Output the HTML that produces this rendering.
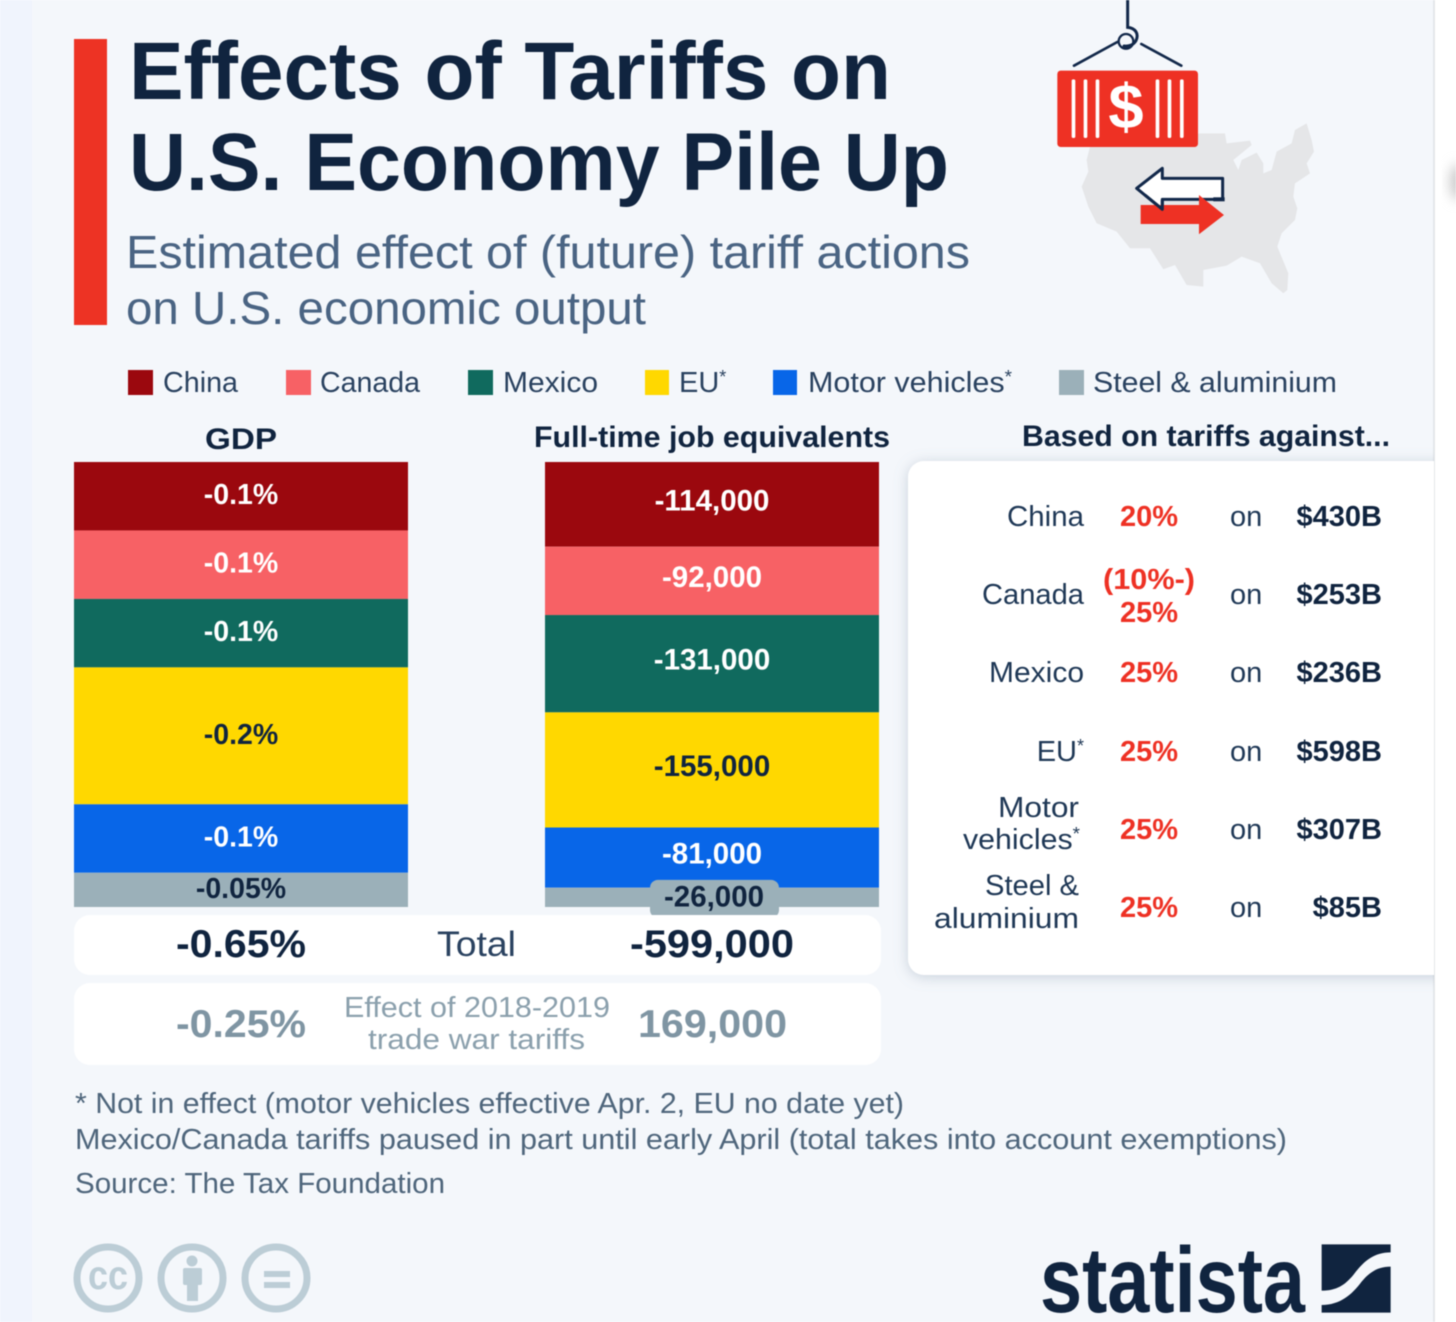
<!DOCTYPE html>
<html lang="en">
<head>
<meta charset="utf-8">
<title>Effects of Tariffs on U.S. Economy Pile Up</title>
<style>
html,body{margin:0;padding:0;background:#fff;}
body{width:1456px;height:1322px;overflow:hidden;}
svg{display:block;filter:blur(0.45px);}
text{font-family:"Liberation Sans",sans-serif;}
.b{font-weight:700;}
.leg{font-size:29px;fill:#2a4260;}
.hdr{font-size:30px;font-weight:700;fill:#10243f;}
.nm{font-size:29px;fill:#1f3856;text-anchor:end;}
.pc{font-size:29px;font-weight:700;fill:#ee3124;text-anchor:middle;}
.on{font-size:29px;fill:#1f3856;}
.val{font-size:29px;font-weight:700;fill:#10243f;text-anchor:end;}
.foot{font-size:29px;fill:#4f667c;}
</style>
</head>
<body>
<svg id="chart" xmlns="http://www.w3.org/2000/svg" width="1456" height="1322" viewBox="0 0 1456 1322">
  <defs>
    <filter id="cardShadow" x="-10%" y="-10%" width="120%" height="120%"><feDropShadow dx="0" dy="2" stdDeviation="7" flood-color="#7f92a6" flood-opacity="0.38"/></filter>
    <filter id="soft" x="-50%" y="-50%" width="200%" height="200%"><feGaussianBlur stdDeviation="6"/></filter>
    <clipPath id="cardClip"><rect x="890" y="440" width="544" height="560"/></clipPath>
  </defs>

  <rect x="0" y="0" width="32" height="1322" fill="#f0f4fd"/>
  <rect x="32" y="0" width="1402" height="1322" fill="#f4f7fb"/>
  <rect x="1433" y="0" width="2" height="1322" fill="#e4e7ea"/>
  <ellipse cx="1458" cy="182" rx="8" ry="18" fill="#c9c9c9" filter="url(#soft)"/>

  <rect x="74" y="39" width="33" height="286" fill="#ed3324"/>
  <text class="b" x="129" y="99" font-size="82" fill="#10243f" textLength="762" lengthAdjust="spacingAndGlyphs">Effects of Tariffs on</text>
  <text class="b" x="129" y="190" font-size="82" fill="#10243f" textLength="820" lengthAdjust="spacingAndGlyphs">U.S. Economy Pile Up</text>
  <text x="126" y="268" font-size="46" fill="#4a6483" textLength="844" lengthAdjust="spacingAndGlyphs">Estimated effect of (future) tariff actions</text>
  <text x="126" y="324" font-size="46" fill="#4a6483" textLength="520" lengthAdjust="spacingAndGlyphs">on U.S. economic output</text>

  <g transform="translate(1000,0) scale(0.3333)">
    <polygon fill="#e5e6e8" points="260,480 270,440 390,410 480,420 600,400 675,400 680,430 750,422 755,435 700,480 715,510 725,480 770,458 790,490 790,520 815,510 830,455 875,430 885,390 920,370 935,420 942,455 920,490 930,520 885,550 880,590 892,625 885,660 845,700 832,740 865,820 862,870 850,880 815,850 780,790 725,770 680,797 610,810 610,860 560,855 525,795 490,808 450,745 390,745 350,695 290,670 265,620 245,560 265,515"/>
    <path d="M383 0V82C405 84 418 100 408 122C400 136 385 140 372 138" fill="none" stroke="#12284a" stroke-width="9" stroke-linecap="round"/>
    <circle cx="378" cy="124" r="22" fill="none" stroke="#12284a" stroke-width="7"/>
    <line x1="222" y1="197" x2="352" y2="126" stroke="#12284a" stroke-width="8" stroke-linecap="round"/>
    <line x1="424" y1="132" x2="544" y2="197" stroke="#12284a" stroke-width="8" stroke-linecap="round"/>
    <rect x="172" y="212" width="422" height="229" rx="10" fill="#ee3124"/>
    <g fill="#fff">
      <rect x="215" y="238" width="11" height="176" rx="5"/><rect x="251" y="238" width="11" height="176" rx="5"/><rect x="287" y="238" width="11" height="176" rx="5"/>
      <rect x="467" y="238" width="11" height="176" rx="5"/><rect x="503" y="238" width="11" height="176" rx="5"/><rect x="540" y="238" width="11" height="176" rx="5"/>
    </g>
    <text class="b" x="378" y="385" font-size="190" fill="#fff" text-anchor="middle">$</text>
    <polygon points="410,565 487,505 487,535 668,535 668,598 487,598 487,628" fill="#fff" stroke="#12284a" stroke-width="9" stroke-linejoin="round"/>
    <polygon points="422,615 597,615 597,585 672,645 597,703 597,672 422,672" fill="#ee3124"/>
    <rect x="640" y="592" width="34" height="12" fill="#12284a"/>
    <polyline points="435,585 487,628 487,600" fill="none" stroke="#12284a" stroke-width="9" stroke-linejoin="round"/>
  </g>

  <g>
    <g><rect x="128" y="370" width="25" height="25" fill="#9b080e"/><text class="leg" x="163" y="392" textLength="75" lengthAdjust="spacingAndGlyphs">China</text></g>
    <g><rect x="286" y="370" width="25" height="25" fill="#f76165"/><text class="leg" x="320" y="392" textLength="100" lengthAdjust="spacingAndGlyphs">Canada</text></g>
    <g><rect x="468" y="370" width="25" height="25" fill="#106a5e"/><text class="leg" x="503" y="392" textLength="95" lengthAdjust="spacingAndGlyphs">Mexico</text></g>
    <g><rect x="645" y="370" width="24" height="25" fill="#ffd800"/><text class="leg" x="679" y="392">EU<tspan font-size="18" dy="-9">*</tspan></text></g>
    <g><rect x="773" y="370" width="24" height="25" fill="#0866e8"/><text class="leg" x="808" y="392" textLength="204" lengthAdjust="spacingAndGlyphs">Motor vehicles<tspan font-size="18" dy="-9">*</tspan></text></g>
    <g><rect x="1059" y="370" width="25" height="25" fill="#9bb0b9"/><text class="leg" x="1093" y="392" textLength="244" lengthAdjust="spacingAndGlyphs">Steel &amp; aluminium</text></g>
  </g>

  <text class="hdr" x="205" y="449" font-size="32" textLength="72" lengthAdjust="spacingAndGlyphs">GDP</text>
  <text class="hdr" x="534" y="447" textLength="356" lengthAdjust="spacingAndGlyphs">Full-time job equivalents</text>
  <text class="hdr" x="1022" y="446" textLength="368" lengthAdjust="spacingAndGlyphs">Based on tariffs against...</text>

  <g id="gdpBars"></g>
  <g id="jobBars"></g>

  <g>
    <rect x="74" y="915" width="807" height="60" rx="16" fill="#fff"/>
    <text class="b" x="176" y="957" font-size="39" fill="#10243f" textLength="130" lengthAdjust="spacingAndGlyphs">-0.65%</text>
    <text x="437" y="956" font-size="35" fill="#2a4260" textLength="79" lengthAdjust="spacingAndGlyphs">Total</text>
    <text class="b" x="630" y="957" font-size="39" fill="#10243f" textLength="164" lengthAdjust="spacingAndGlyphs">-599,000</text>
  </g>
  <g>
    <rect x="74" y="983" width="807" height="82" rx="16" fill="#fff"/>
    <text class="b" x="176" y="1037" font-size="39" fill="#7f95a3" textLength="130" lengthAdjust="spacingAndGlyphs">-0.25%</text>
    <text x="344" y="1017" font-size="29" fill="#8ba0ad" textLength="266" lengthAdjust="spacingAndGlyphs">Effect of 2018-2019</text>
    <text x="368" y="1049" font-size="29" fill="#8ba0ad" textLength="217" lengthAdjust="spacingAndGlyphs">trade war tariffs</text>
    <text class="b" x="638" y="1037" font-size="39" fill="#7f95a3" textLength="149" lengthAdjust="spacingAndGlyphs">169,000</text>
  </g>

  <g>
    <g clip-path="url(#cardClip)"><rect x="908" y="461" width="560" height="514" rx="16" fill="#fff" filter="url(#cardShadow)"/></g>
    <g>
      <text class="nm" x="1084" y="526" textLength="77" lengthAdjust="spacingAndGlyphs">China</text><text class="pc" x="1149" y="526">20%</text><text class="on" x="1230" y="526">on</text><text class="val" x="1382" y="526">$430B</text>
    </g>
    <g>
      <text class="nm" x="1084" y="604" textLength="102" lengthAdjust="spacingAndGlyphs">Canada</text><text class="pc" x="1149" y="589" textLength="92" lengthAdjust="spacingAndGlyphs">(10%-)</text><text class="pc" x="1149" y="622">25%</text><text class="on" x="1230" y="604">on</text><text class="val" x="1382" y="604">$253B</text>
    </g>
    <g>
      <text class="nm" x="1084" y="682" textLength="95" lengthAdjust="spacingAndGlyphs">Mexico</text><text class="pc" x="1149" y="682">25%</text><text class="on" x="1230" y="682">on</text><text class="val" x="1382" y="682">$236B</text>
    </g>
    <g>
      <text class="nm" x="1084" y="761">EU<tspan font-size="18" dy="-9">*</tspan></text><text class="pc" x="1149" y="761">25%</text><text class="on" x="1230" y="761">on</text><text class="val" x="1382" y="761">$598B</text>
    </g>
    <g>
      <text class="nm" x="1079" y="817" textLength="81" lengthAdjust="spacingAndGlyphs">Motor</text><text class="nm" x="1080" y="849" textLength="117" lengthAdjust="spacingAndGlyphs">vehicles<tspan font-size="18" dy="-9">*</tspan></text><text class="pc" x="1149" y="839">25%</text><text class="on" x="1230" y="839">on</text><text class="val" x="1382" y="839">$307B</text>
    </g>
    <g>
      <text class="nm" x="1079" y="895" textLength="94" lengthAdjust="spacingAndGlyphs">Steel &amp;</text><text class="nm" x="1079" y="928" textLength="145" lengthAdjust="spacingAndGlyphs">aluminium</text><text class="pc" x="1149" y="917">25%</text><text class="on" x="1230" y="917">on</text><text class="val" x="1382" y="917">$85B</text>
    </g>
  </g>

  <text class="foot" x="75" y="1113" textLength="829" lengthAdjust="spacingAndGlyphs">* Not in effect (motor vehicles effective Apr. 2, EU no date yet)</text>
  <text class="foot" x="75" y="1149" textLength="1212" lengthAdjust="spacingAndGlyphs">Mexico/Canada tariffs paused in part until early April (total takes into account exemptions)</text>
  <text class="foot" x="75" y="1193" textLength="370" lengthAdjust="spacingAndGlyphs">Source: The Tax Foundation</text>

  <g fill="none" stroke="#bccdd6" stroke-width="7">
    <g><circle cx="108" cy="1278" r="31"/><text x="88" y="1289" font-size="41" class="b" fill="#bccdd6" stroke="none" textLength="40" lengthAdjust="spacingAndGlyphs">cc</text></g>
    <g><circle cx="192" cy="1278" r="31"/><g fill="#bccdd6" stroke="none"><circle cx="192" cy="1261" r="5.5"/><rect x="183" y="1268" width="19" height="17" rx="2"/><rect x="187" y="1280" width="11" height="21"/></g></g>
    <g><circle cx="276" cy="1278" r="31"/><g fill="#bccdd6" stroke="none"><rect x="264" y="1271" width="26" height="6"/><rect x="264" y="1282" width="26" height="6"/></g></g>
  </g>

  <g>
    <text class="b" x="1040" y="1312" font-size="93" fill="#10243f" textLength="265" lengthAdjust="spacingAndGlyphs">statista</text>
    <g transform="translate(1020,1220) scale(0.3333)" fill="#10243f">
      <path d="M905 73H1112V97C1060 97 1030 125 1000 165C975 195 950 212 905 212Z"/>
      <path d="M1112 140V278H905V255C960 255 995 225 1025 185C1050 155 1075 140 1112 140Z"/>
    </g>
  </g>
</svg>

<script>
const categories = ["China", "Canada", "Mexico", "EU", "Motor vehicles", "Steel & aluminium"];
const gdpValues = [0.1, 0.1, 0.1, 0.2, 0.1, 0.05];
const jobValues = [114000, 92000, 131000, 155000, 81000, 26000];
const gdpLabels = ["-0.1%", "-0.1%", "-0.1%", "-0.2%", "-0.1%", "-0.05%"];
const jobLabels = ["-114,000", "-92,000", "-131,000", "-155,000", "-81,000", "-26,000"];
const seriesColors = ["#9b080e", "#f76165", "#106a5e", "#ffd800", "#0866e8", "#9bb0b9"];
const labelColors = ["#fff", "#fff", "#fff", "#10243f", "#fff", "#10243f"];
const gdpAxisMax = 0.65;
const jobAxisMax = 599000;

const NS = "http://www.w3.org/2000/svg";
const plotTop = 462;
const plotHeight = 445;

function yGdp(v) { return plotTop + v / gdpAxisMax * plotHeight; }
function yJob(v) { return plotTop + v / jobAxisMax * plotHeight; }
function slug(s) { return s.toLowerCase().replace(/[^a-z]+/g, "-"); }

function drawStack(parent, values, labels, yScale, barX, barW, fontSize, prefix) {
  let cum = 0;
  values.forEach(function (v, i) {
    const y0 = yScale(cum);
    const y1 = yScale(cum + v);
    cum += v;
    const r = document.createElementNS(NS, "rect");
    r.setAttribute("x", barX);
    r.setAttribute("y", y0);
    r.setAttribute("width", barW);
    r.setAttribute("height", y1 - y0);
    r.setAttribute("fill", seriesColors[i]);
    
    
    parent.appendChild(r);
  });
  cum = 0;
  values.forEach(function (v, i) {
    const y0 = yScale(cum);
    const y1 = yScale(cum + v);
    cum += v;
    const cy = (y0 + y1) / 2;
    const cx = barX + barW / 2;
    const isPill = prefix === "jobs" && i === values.length - 1;
    if (isPill) {
      const pill = document.createElementNS(NS, "rect");
      pill.setAttribute("x", cx - 62);
      pill.setAttribute("y", cy - 17.5);
      pill.setAttribute("width", 129);
      pill.setAttribute("height", 38);
      pill.setAttribute("rx", 8);
      pill.setAttribute("fill", seriesColors[i]);
      
      
      parent.appendChild(pill);
    }
    const t = document.createElementNS(NS, "text");
    t.setAttribute("x", isPill ? cx + 2 : cx);
    t.setAttribute("y", cy + (prefix === "jobs" ? (isPill ? 9 : 6) : 8));
    t.setAttribute("text-anchor", "middle");
    t.setAttribute("font-size", fontSize);
    t.setAttribute("font-weight", "700");
    t.setAttribute("fill", labelColors[i]);
    
    
    t.textContent = labels[i];
    parent.appendChild(t);
  });
}

drawStack(document.getElementById("gdpBars"), gdpValues, gdpLabels, yGdp, 74, 334, 28.5, "gdp");
drawStack(document.getElementById("jobBars"), jobValues, jobLabels, yJob, 545, 334, 29.5, "jobs");
</script>
</body>
</html>
